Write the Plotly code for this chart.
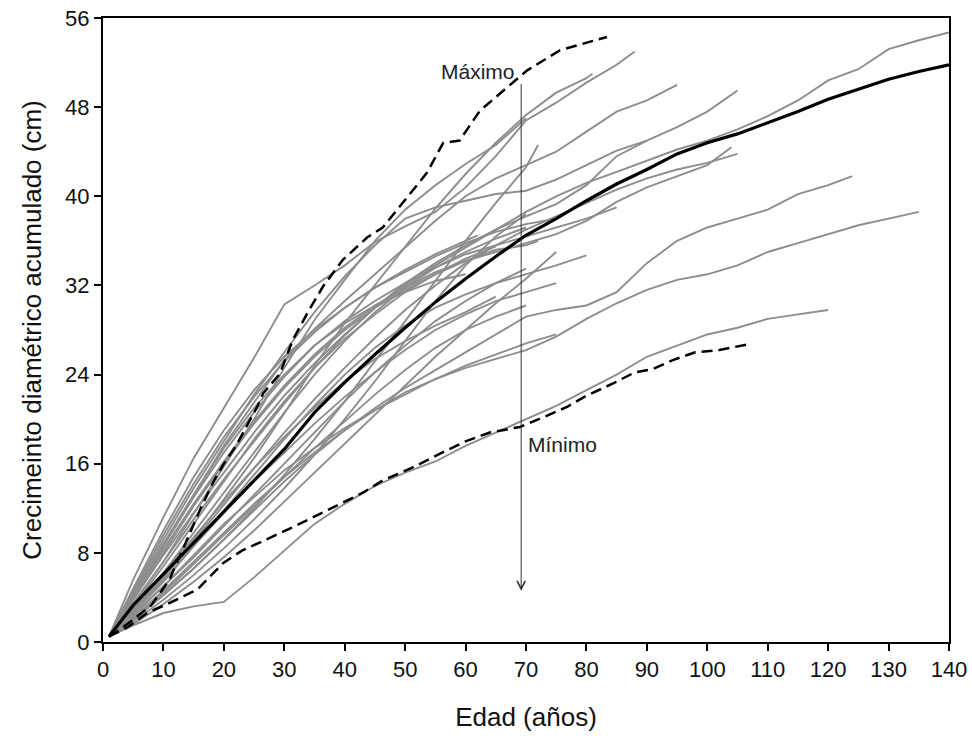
import plotly.graph_objects as go

# ---- data ----
mean_age = [1, 5, 10, 15, 20, 25, 30, 35, 40, 45, 50, 55, 60, 65, 70, 75, 80, 85, 90, 95,
            100, 105, 110, 115, 120, 125, 130, 135, 140]
mean_cd = [0.5, 3.3, 6.1, 8.9, 11.6, 14.4, 17.3, 20.6, 23.3, 25.8, 28.2, 30.5, 32.6, 34.6,
           36.5, 38.0, 39.6, 41.1, 42.4, 43.8, 44.8, 45.6, 46.6, 47.6, 48.7, 49.6, 50.5, 51.2, 51.8]

max_age = [1, 3, 5, 8, 11, 13, 14.4, 16, 18.2, 20, 22, 25.5, 26.5, 29.3, 31.4, 33.8, 36.4,
           39.7, 43.7, 46.3, 50.3, 53.6, 56.3, 59, 62.4, 66.9, 70.2, 75.6, 80, 83.4]
max_cd = [0.5, 1.2, 2.0, 3.3, 5.6, 8.0, 9.8, 11.8, 14.3, 16.0, 17.6, 21.1, 22.3, 24.1, 27.1,
          29.5, 31.9, 34.3, 36.3, 37.2, 39.9, 42.1, 44.8, 45.0, 47.7, 49.8, 51.3, 53.1, 53.8, 54.3]

min_age = [1, 4, 7.3, 11, 15.6, 19.9, 23, 27.1, 31, 34.8, 39, 43, 46.3, 51, 56.9, 60, 64,
           69, 73, 76.8, 80, 84.4, 88, 91, 94.3, 98, 102, 106.6]
min_cd = [0.5, 1.3, 2.6, 3.5, 4.7, 7.1, 8.2, 9.2, 10.2, 11.2, 12.3, 13.4, 14.5, 15.6, 17.2,
          18.0, 18.8, 19.3, 20.2, 21.1, 22.1, 23.2, 24.2, 24.5, 25.3, 26.0, 26.2, 26.7]

# individual trees: (last age, accumulated diameter growth at ages 1, 5, 10, ... , last)
tree_end = {
    "A": 88, "B": 70, "C": 81, "D": 95, "E": 105, "F": 90, "G": 104, "H": 105, "I": 85,
    "J": 80, "K": 140, "L": 75, "M": 70, "N": 72, "O": 65, "Q": 124, "R": 135, "S": 120,
    "T": 75, "U": 75, "V": 70, "W": 70, "X": 70, "Y": 72, "Z": 75, "AA": 60, "AB": 65, "AC": 62,
}
tree_cd = {
    "A": [0.5, 5.6, 11.2, 16.5, 21.0, 25.5, 30.3, 32.0, 33.8, 35.9, 37.3, 38.6, 40.8, 43.6, 46.8, 48.4, 50.2, 51.8, 53.0],
    "B": [0.5, 3.5, 7.2, 11.5, 15.8, 20.0, 24.6, 28.9, 32.5, 36.0, 38.8, 41.0, 42.9, 44.6, 47.0],
    "C": [0.5, 3.0, 6.0, 9.2, 12.8, 16.5, 20.5, 24.8, 28.6, 32.0, 35.5, 38.9, 42.0, 44.8, 47.3, 49.3, 50.6, 51.0],
    "D": [0.5, 4.2, 8.8, 13.2, 17.6, 21.5, 25.3, 28.1, 30.6, 33.0, 35.4, 37.8, 40.0, 41.6, 42.8, 44.0, 45.8, 47.6, 48.6, 50.0],
    "E": [0.5, 3.8, 7.8, 11.6, 15.2, 18.8, 22.1, 25.0, 27.6, 30.0, 32.2, 34.0, 35.6, 37.0, 38.2, 39.3, 41.0, 43.6, 45.0, 46.2, 47.6, 49.5],
    "F": [0.5, 4.4, 9.2, 13.8, 18.0, 22.2, 26.0, 29.6, 32.8, 35.6, 38.0, 39.0, 39.6, 40.2, 40.5, 41.5, 42.8, 44.1, 45.0],
    "G": [0.5, 4.0, 8.3, 12.4, 16.2, 19.8, 23.0, 25.8, 28.2, 30.2, 31.8, 33.2, 34.2, 35.0, 35.8, 36.6, 37.8, 39.5, 40.8, 41.8, 42.8, 44.4],
    "H": [0.5, 2.8, 5.8, 9.0, 12.3, 15.6, 18.8, 21.8, 24.6, 27.3, 29.8, 32.0, 34.0, 35.6, 37.0, 38.2, 39.4, 40.6, 41.6, 42.4, 43.0, 43.8],
    "I": [0.5, 3.0, 6.2, 9.8, 13.4, 17.0, 20.6, 24.0, 27.0, 29.6, 31.8, 33.6, 34.8, 35.6, 36.4, 37.2, 38.0, 39.0],
    "J": [0.5, 2.6, 5.4, 8.6, 11.8, 15.0, 18.2, 21.2, 24.0, 26.4, 28.4, 30.0, 31.2, 32.2, 33.0, 33.8, 34.7],
    "K": [0.5, 3.4, 7.2, 11.0, 14.6, 18.0, 21.4, 24.6, 27.5, 30.0, 32.0, 33.8, 35.4, 37.0, 38.6, 40.0, 41.2, 42.2, 43.2, 44.2, 45.0, 46.0, 47.2, 48.6, 50.4, 51.4, 53.2, 54.0, 54.7],
    "L": [0.5, 4.6, 9.6, 14.2, 18.4, 22.0, 25.2, 27.8, 30.0, 31.8, 33.2, 34.6, 35.8, 36.8, 37.5, 38.0],
    "M": [0.5, 4.0, 8.6, 13.0, 17.0, 20.6, 23.8, 26.6, 28.8, 30.6, 32.2, 33.6, 35.0, 36.2, 37.2],
    "N": [0.5, 3.8, 8.0, 12.2, 16.0, 19.6, 22.8, 25.6, 28.0, 30.0, 31.6, 33.0, 34.2, 35.2, 35.6, 36.0],
    "O": [0.5, 3.2, 6.8, 10.6, 14.4, 18.2, 21.6, 24.6, 27.2, 29.4, 31.4, 33.0, 34.4, 35.5],
    "Q": [0.5, 2.0, 4.2, 6.6, 9.2, 11.8, 14.4, 16.8, 19.0, 21.0, 22.8, 24.4, 26.0, 27.6, 29.2, 29.8, 30.2, 31.4, 34.0, 36.0, 37.2, 38.0, 38.8, 40.2, 41.0, 41.8],
    "R": [0.5, 2.2, 4.6, 7.2, 9.8, 12.4, 14.8, 17.0, 19.0, 20.8, 22.4, 23.6, 24.6, 25.4, 26.2, 27.4, 29.0, 30.4, 31.6, 32.5, 33.0, 33.8, 35.0, 35.8, 36.6, 37.4, 38.0, 38.6],
    "S": [0.5, 1.5, 2.6, 3.2, 3.6, 5.8, 8.2, 10.6, 12.4, 14.0, 15.2, 16.2, 17.6, 18.8, 20.0, 21.2, 22.6, 24.0, 25.6, 26.6, 27.6, 28.2, 29.0, 29.4, 29.8],
    "T": [0.5, 2.4, 5.0, 7.8, 10.6, 13.0, 15.4, 17.4, 19.2, 20.8, 22.2, 23.6, 24.8, 25.8, 26.8, 27.6],
    "U": [0.5, 2.8, 5.6, 8.6, 11.6, 14.4, 17.0, 19.6, 22.0, 24.2, 26.2, 28.0, 29.4, 30.6, 31.4, 32.2],
    "V": [0.5, 2.0, 4.4, 7.0, 9.6, 12.2, 14.8, 17.4, 19.8, 22.2, 24.4, 26.4, 28.0, 29.2, 30.2],
    "W": [0.5, 2.4, 5.0, 7.6, 10.4, 13.2, 16.0, 18.8, 21.6, 24.2, 26.6, 28.8, 30.6, 32.2, 33.5],
    "X": [0.5, 1.8, 3.8, 6.0, 8.4, 11.0, 13.8, 16.8, 20.0, 23.4, 27.0, 30.6, 33.8, 36.4, 38.4],
    "Y": [0.5, 2.0, 4.2, 6.6, 9.2, 12.0, 15.0, 18.2, 21.6, 25.2, 28.8, 32.4, 36.0, 39.4, 42.6, 44.6],
    "Z": [0.5, 1.6, 3.4, 5.4, 7.6, 10.0, 12.6, 15.2, 17.8, 20.4, 23.0, 25.6, 28.0, 30.4, 32.6, 35.0],
    "AA": [0.5, 4.2, 8.8, 13.2, 17.4, 21.0, 24.0, 26.6, 28.6, 30.2, 31.4, 32.4, 33.0],
    "AB": [0.5, 3.0, 6.2, 9.4, 12.6, 15.6, 18.4, 21.0, 23.4, 25.4, 27.0, 28.4, 29.6, 31.0],
    "AC": [0.5, 4.8, 10.0, 14.8, 19.0, 22.6, 25.6, 28.0, 30.0, 31.8, 33.4, 34.8, 36.0, 36.5],
}

x_ticks = [0, 10, 20, 30, 40, 50, 60, 70, 80, 90, 100, 110, 120, 130, 140]
y_ticks = [0, 8, 16, 24, 32, 40, 48, 56]

arrow_age = 69.2
arrow_top = 50.2
arrow_bottom = 4.6


def ages(end):
    a = [1] + list(range(5, end, 5))
    a.append(end)
    return a


fig = go.Figure()
for k, ys in tree_cd.items():
    xs = ages(tree_end[k])
    fig.add_trace(go.Scatter(x=xs, y=ys, mode="lines",
                             line=dict(color="#8d8d8d", width=1.9),
                             showlegend=False, hoverinfo="skip"))

fig.add_trace(go.Scatter(x=max_age, y=max_cd, mode="lines",
                         line=dict(color="black", width=2.5, dash="11px,6px"), showlegend=False))
fig.add_trace(go.Scatter(x=min_age, y=min_cd, mode="lines",
                         line=dict(color="black", width=2.5, dash="11px,6px"), showlegend=False))
fig.add_trace(go.Scatter(x=mean_age, y=mean_cd, mode="lines",
                         line=dict(color="black", width=3.2), showlegend=False))

font_fam = "Liberation Sans, Arial, sans-serif"

fig.add_annotation(x=arrow_age, y=arrow_bottom, ax=arrow_age, ay=arrow_top,
                   xref="x", yref="y", axref="x", ayref="y", text="",
                   showarrow=True, arrowhead=5, arrowsize=1.6, arrowwidth=1,
                   arrowcolor="#333333")
fig.add_annotation(x=arrow_age, y=51.2, text="Máximo", showarrow=False,
                   xanchor="right", yanchor="middle", xshift=-4,
                   font=dict(family=font_fam, size=21, color="#222222"))
fig.add_annotation(x=arrow_age, y=17.7, text="Mínimo", showarrow=False,
                   xanchor="left", yanchor="middle", xshift=5,
                   font=dict(family=font_fam, size=21, color="#222222"))

axis_common = dict(showgrid=False, zeroline=False, showline=True, linecolor="black",
                   linewidth=2, mirror=True, ticks="outside", ticklen=7, tickwidth=2,
                   tickcolor="black", automargin=False,
                   tickfont=dict(family=font_fam, size=22, color="#111111"))

fig.update_xaxes(range=[0, 140], tickvals=x_ticks, **axis_common,
                 title=dict(text="Edad (años)", standoff=26,
                            font=dict(family=font_fam, size=26, color="#111111")))
fig.update_yaxes(range=[0, 56], tickvals=y_ticks, **axis_common,
                 title=dict(text="Crecimeinto diamétrico acumulado (cm)", standoff=16,
                            font=dict(family=font_fam, size=26, color="#111111")))

fig.update_layout(width=972, height=744, plot_bgcolor="white", paper_bgcolor="white",
                  margin=dict(l=103, r=23, t=18, b=102), showlegend=False)

fig.write_html("out.html")
